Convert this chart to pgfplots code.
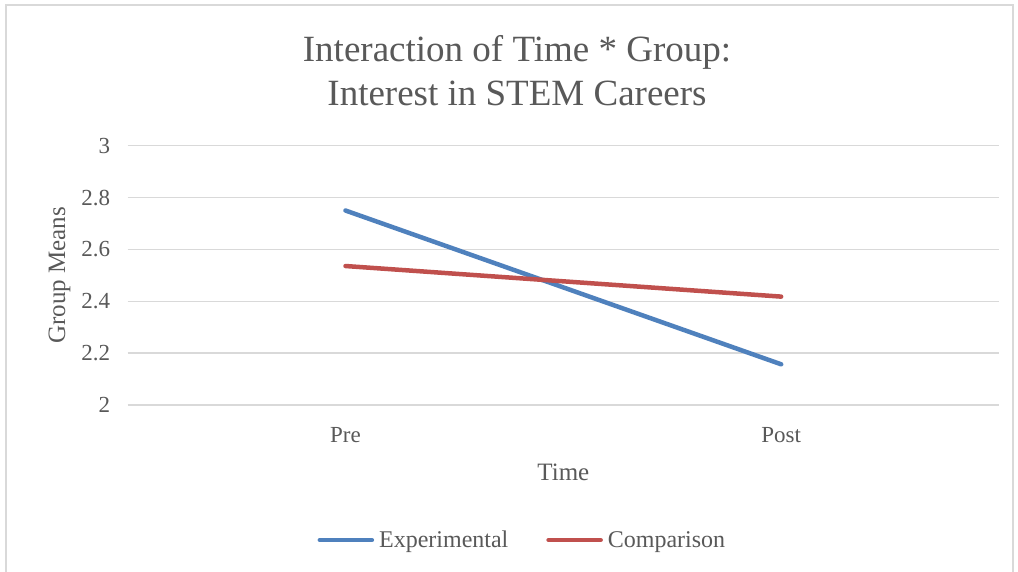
\documentclass[border=0pt]{standalone}
\usepackage{pgfplots}
\pgfplotsset{compat=1.18}
\usepackage{fontspec}
\setmainfont{Liberation Serif}
\definecolor{txt}{HTML}{595959}
\definecolor{gridc}{HTML}{D9D9D9}
\definecolor{expc}{HTML}{4F81BD}
\definecolor{cmpc}{HTML}{C0504D}
\begin{document}
\begin{tikzpicture}[x=1pt,y=1pt]
\useasboundingbox (0,0) rectangle (1018,-571);
\fill[white] (0,0) rectangle (1018,-571);
\draw[gridc, line width=1.5pt] (6,-5) rectangle (1013,-580);
\node[txt, align=center, font=\fontsize{37}{44}\selectfont] at (517,-71) {Interaction of Time * Group:\\Interest in STEM Careers};
\begin{axis}[
  at={(127.7pt,-405pt)}, anchor=south west,
  scale only axis, width=871.3pt, height=259.3pt,
  xmin=0, xmax=2, ymin=2, ymax=3,
  xtick={0.5,1.5}, xticklabels={Pre,Post},
  ytick={2,2.2,2.4,2.6,2.8,3},
  /pgf/number format/fixed,
  /pgf/number format/assume math mode=true,
  axis line style={draw=none},
  major tick length=0pt,
  tick style={draw=none},
  ymajorgrids, xmajorgrids=false, grid style={draw=gridc, line width=1.5pt},
  tick label style={txt, font=\fontsize{23}{27}\selectfont},
  xticklabel style={yshift=-19pt},
  yticklabel style={xshift=-14pt},
  xlabel={Time}, ylabel={Group Means},
  label style={txt, font=\fontsize{25}{29}\selectfont},
  xlabel style={yshift=-14pt},
  ylabel style={yshift=4pt},
  legend style={at={(0.453,-0.521)}, anchor=center, draw=none, font=\fontsize{24}{28}\selectfont, text=txt, legend columns=2, /tikz/every even column/.append style={column sep=36pt}, /tikz/every odd column/.append style={column sep=3pt}},
  legend image code/.code={\draw[#1, line cap=round] (0pt,0pt) -- (52pt,0pt);},
  clip=false,
]
\addplot[expc, line width=4.5pt, line cap=round] coordinates {(0.5,2.750) (1.5,2.157)};
\addlegendentry{Experimental}
\addplot[cmpc, line width=4.5pt, line cap=round] coordinates {(0.5,2.536) (1.5,2.418)};
\addlegendentry{Comparison}
\end{axis}
\end{tikzpicture}
\end{document}
